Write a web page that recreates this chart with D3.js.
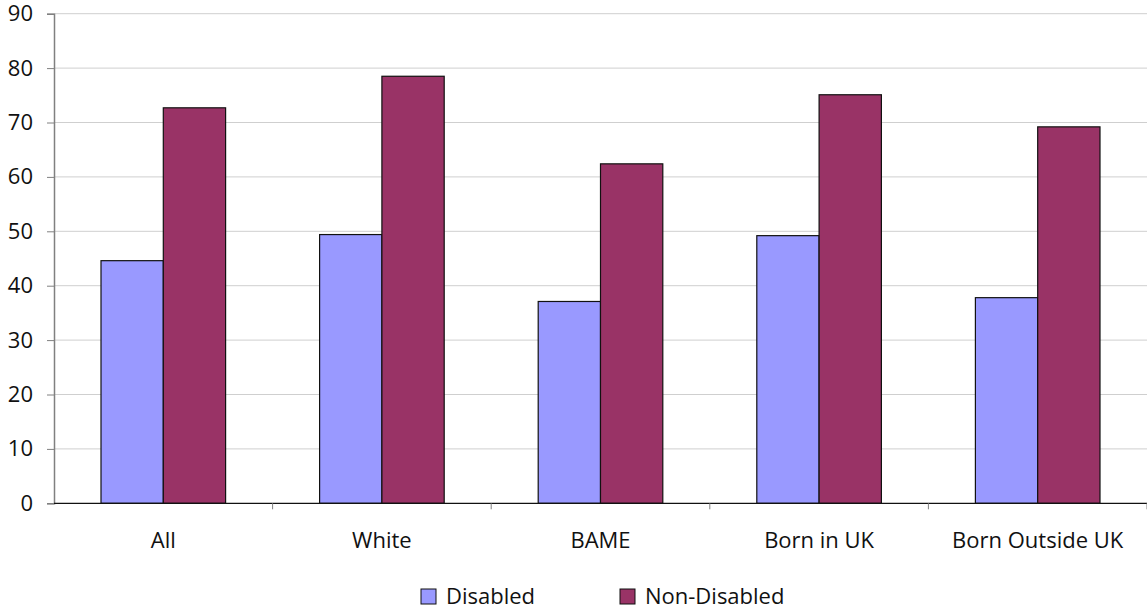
<!DOCTYPE html>
<html>
<head>
<meta charset="utf-8">
<script src="https://cdn.jsdelivr.net/npm/d3@7"></script>
<style>
  html, body { margin: 0; padding: 0; background: #fff; }
  svg { display: block; font-family: "Open Sans", sans-serif; }
</style>
</head>
<body>
<svg id="chart" width="1147" height="610"></svg>
<script>
// Employment rate by group, disabled vs non-disabled
const categories = ["All", "White", "BAME", "Born in UK", "Born Outside UK"];
const seriesNames = ["Disabled", "Non-Disabled"];
const disabled = [44.6, 49.4, 37.1, 49.2, 37.8];
const nonDisabled = [72.7, 78.5, 62.4, 75.1, 69.2];
const yTicks = [0, 10, 20, 30, 40, 50, 60, 70, 80, 90];
const colors = ["#9999FF", "#993366"];

const svg = d3.select("#chart");
const margin = { left: 54, right: 0, top: 13.7, bottom: 107 };
const W = 1147, H = 610;
const plotBottom = 503.3;
const fontSize = 22;

const x0 = d3.scaleBand().domain(categories).range([margin.left, W]).paddingInner(0).paddingOuter(0);
const x1 = d3.scaleBand().domain(seriesNames).range([47, x0.bandwidth() - 47]);
const y = d3.scaleLinear().domain([0, 90]).range([plotBottom, margin.top]);

// horizontal grid lines
svg.append("g")
  .selectAll("line")
  .data(yTicks.filter(d => d > 0))
  .join("line")
  .attr("x1", margin.left).attr("x2", W)
  .attr("y1", d => y(d)).attr("y2", d => y(d))
  .attr("stroke", "#cfcfcf").attr("stroke-width", 1);

// bars
const rows = categories.map((c, i) => ({ cat: c, vals: [disabled[i], nonDisabled[i]] }));
const groups = svg.append("g")
  .selectAll("g")
  .data(rows)
  .join("g")
  .attr("transform", d => `translate(${x0(d.cat)},0)`);

groups.selectAll("rect")
  .data(d => d.vals.map((v, j) => ({ name: seriesNames[j], v, j })))
  .join("rect")
  .attr("x", d => x1(d.name))
  .attr("width", x1.bandwidth())
  .attr("y", d => y(d.v))
  .attr("height", d => plotBottom - y(d.v))
  .attr("fill", d => colors[d.j])
  .attr("stroke", "#111")
  .attr("stroke-width", 1.2);

// y axis
const yAxis = svg.append("g")
  .attr("transform", `translate(${margin.left},0)`)
  .call(d3.axisLeft(y).tickValues(yTicks).tickSize(7).tickPadding(14).tickFormat(d3.format("d")));
yAxis.select(".domain").attr("stroke", "#808080").attr("stroke-width", 1.5);
yAxis.selectAll(".tick line").attr("stroke", "#808080");
yAxis.selectAll(".tick text").attr("font-size", fontSize).attr("fill", "#111").attr("font-family", "Open Sans");

// x axis baseline and category separators
const xAxisG = svg.append("g");
xAxisG.append("line")
  .attr("x1", margin.left).attr("x2", W)
  .attr("y1", plotBottom).attr("y2", plotBottom)
  .attr("stroke", "#111").attr("stroke-width", 1.2);
const bounds = categories.map(c => x0(c)).concat([W]);
xAxisG.selectAll("line.sep")
  .data(bounds.slice(1))
  .join("line")
  .attr("class", "sep")
  .attr("x1", d => d).attr("x2", d => d)
  .attr("y1", plotBottom).attr("y2", plotBottom + 6)
  .attr("stroke", "#808080");
xAxisG.selectAll("text")
  .data(categories)
  .join("text")
  .attr("x", d => x0(d) + x0.bandwidth() / 2)
  .attr("y", 548)
  .attr("text-anchor", "middle")
  .attr("font-size", fontSize)
  .attr("fill", "#111")
  .text(d => d);

// legend
const legendItems = [
  { name: seriesNames[0], color: colors[0], x: 421 },
  { name: seriesNames[1], color: colors[1], x: 620 }
];
const lg = svg.append("g").selectAll("g").data(legendItems).join("g")
  .attr("transform", d => `translate(${d.x},589)`);
lg.append("rect")
  .attr("width", 15).attr("height", 15)
  .attr("fill", d => d.color)
  .attr("stroke", "#111").attr("stroke-width", 1);
lg.append("text")
  .attr("x", 25).attr("y", 15)
  .attr("font-size", fontSize)
  .attr("fill", "#111")
  .text(d => d.name);
</script>
</body>
</html>
